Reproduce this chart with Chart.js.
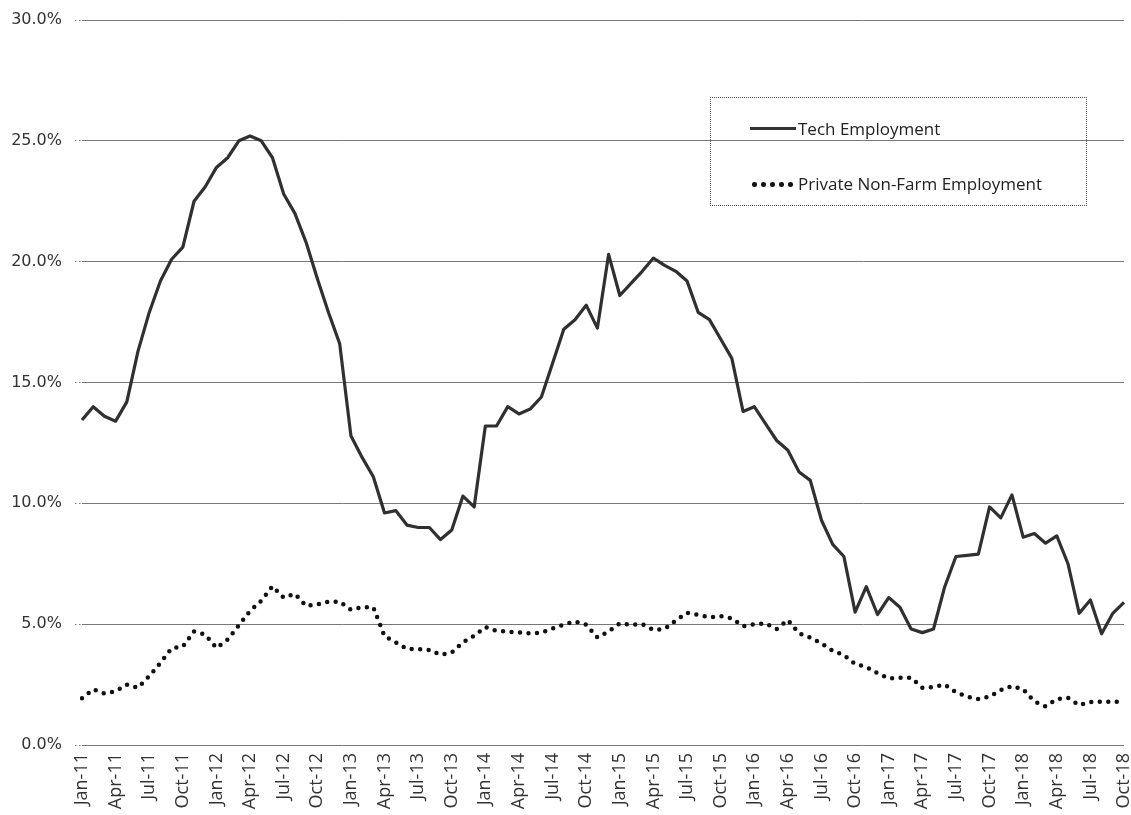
<!DOCTYPE html>
<html>
<head>
<meta charset="utf-8">
<script src="https://cdn.jsdelivr.net/npm/chart.js@4.4.1/dist/chart.umd.min.js"></script>
<style>
  html, body { margin: 0; padding: 0; background: #fff; }
  #wrap { position: relative; width: 1131px; height: 815px; }
  #legend {
    position: absolute; left: 710px; top: 97px; width: 377px; height: 109px;
    border: 1px dotted #555; box-sizing: border-box;
    font-family: "Open Sans", sans-serif; font-size: 17px; color: #222;
  }
  .item { position: absolute; left: 39px; height: 24px; line-height: 24px; white-space: nowrap; }
  .sample { display: inline-block; width: 46px; height: 24px; position: relative; vertical-align: top; margin-right: 2px; }
  .solid { position: absolute; left: 0; right: 0; top: 10px; height: 3px; background: #333; }
  .dot { position: absolute; top: 10px; width: 4.5px; height: 4.5px; border-radius: 50%; background: #111; }
</style>
</head>
<body>
<div id="wrap">
  <canvas id="c" width="1131" height="815"></canvas>
  <div id="legend">
    <div class="item" style="top:19px"><span class="sample"><span class="solid"></span></span>Tech Employment</div>
    <div class="item" style="top:74px"><span class="sample">
      <span class="dot" style="left:2px"></span><span class="dot" style="left:11px"></span><span class="dot" style="left:20px"></span><span class="dot" style="left:29px"></span><span class="dot" style="left:38px"></span>
    </span>Private Non-Farm Employment</div>
  </div>
</div>
<script>
const monthNames = ['Jan','Feb','Mar','Apr','May','Jun','Jul','Aug','Sep','Oct','Nov','Dec'];
const years = ['11','12','13','14','15','16','17','18'];
const categories = [];
years.forEach(y => monthNames.forEach(m => categories.push(m + '-' + y)));
categories.length = 94; // Jan-11 .. Oct-18

const techEmployment = [
  13.45,14.0,13.6,13.4,14.2,16.3,17.9,19.2,20.1,20.6,22.5,23.1,
  23.9,24.3,25.0,25.2,25.0,24.3,22.8,22.0,20.8,19.3,17.9,16.6,
  12.8,11.9,11.1,9.6,9.7,9.1,9.0,9.0,8.5,8.9,10.3,9.85,
  13.2,13.2,14.0,13.7,13.9,14.4,15.8,17.2,17.6,18.2,17.25,20.3,
  18.6,19.1,19.6,20.15,19.85,19.6,19.2,17.9,17.6,16.8,16.0,13.8,
  14.0,13.3,12.6,12.2,11.3,10.95,9.3,8.3,7.8,5.5,6.55,5.4,
  6.1,5.7,4.8,4.65,4.8,6.55,7.8,7.85,7.9,9.85,9.4,10.35,
  8.6,8.75,8.35,8.65,7.5,5.45,6.0,4.6,5.45,5.9
];
const privateNonFarm = [
  1.93,2.3,2.13,2.22,2.5,2.37,2.85,3.4,4.0,4.07,4.7,4.57,
  4.02,4.36,4.95,5.55,5.97,6.57,6.1,6.25,5.75,5.82,5.93,5.93,
  5.6,5.7,5.7,4.5,4.25,3.98,3.97,3.93,3.73,3.83,4.25,4.52,
  4.88,4.72,4.69,4.66,4.62,4.65,4.82,4.98,5.11,4.98,4.45,4.7,
  5.03,4.97,5.0,4.76,4.8,5.15,5.47,5.38,5.28,5.33,5.24,4.92,
  5.0,5.03,4.8,5.17,4.62,4.45,4.2,3.9,3.72,3.35,3.23,2.97,
  2.76,2.78,2.78,2.37,2.4,2.5,2.18,2.0,1.9,2.0,2.27,2.44,
  2.3,1.8,1.6,1.9,1.95,1.65,1.78,1.79,1.79,1.79
];
const yTicks = [0,5,10,15,20,25,30];

new Chart(document.getElementById('c'), {
  type: 'line',
  data: {
    labels: categories,
    datasets: [
      {
        label: 'Tech Employment',
        data: techEmployment,
        borderColor: '#303030',
        borderWidth: 3.2,
        pointRadius: 0,
        tension: 0,
        borderJoinStyle: 'round'
      },
      {
        label: 'Private Non-Farm Employment',
        data: privateNonFarm,
        borderColor: '#111',
        borderWidth: 4.5,
        borderDash: [0, 8.5],
        borderCapStyle: 'round',
        pointRadius: 0,
        tension: 0
      }
    ]
  },
  options: {
    responsive: false,
    animation: false,
    events: [],
    layout: { padding: { top: 20, right: 7, bottom: 0, left: 0 } },
    plugins: { legend: { display: false }, tooltip: { enabled: false } },
    scales: {
      x: {
        offset: false,
        grid: { display: false, drawTicks: false },
        border: { display: false },
        ticks: {
          autoSkip: false,
          maxRotation: 90,
          minRotation: 90,
          padding: 8,
          color: '#333',
          font: { family: 'Open Sans', size: 18 },
          callback: (v, i) => (i % 3 === 0 ? categories[i] : '')
        },
        afterFit: s => { s.height = 70; s.paddingLeft = 0; s.paddingRight = 0; }
      },
      y: {
        min: 0,
        max: 30,
        afterBuildTicks: s => { s.ticks = yTicks.map(v => ({ value: v })); },
        grid: {
          color: '#777',
          lineWidth: 1,
          borderDash: [1.5, 2.5],
          drawTicks: true,
          tickLength: 7,
          tickColor: '#777',
          tickBorderDash: [1.5, 2.5]
        },
        border: { display: false },
        ticks: {
          padding: 13,
          color: '#333',
          font: { family: 'DejaVu Sans', size: 16 },
          callback: v => v.toFixed(1) + '%'
        },
        afterFit: s => { s.width = 82; s.paddingTop = 0; s.paddingBottom = 0; }
      }
    }
  }
});
</script>
</body>
</html>
